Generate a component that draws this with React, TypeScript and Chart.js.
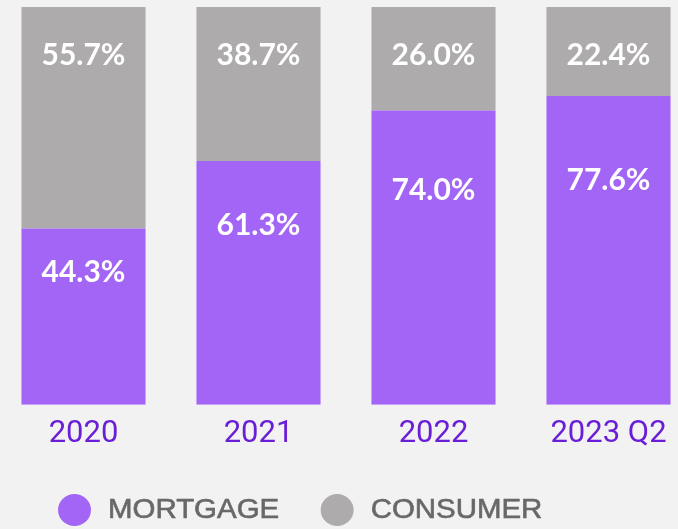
import React, { useEffect, useRef } from "react";
import { Chart, registerables } from "chart.js";

Chart.register(...registerables);

const categories = ["2020", "2021", "2022", "2023 Q2"];
const mortgage = [44.3, 61.3, 74.0, 77.6];
const consumer = [55.7, 38.7, 26.0, 22.4];
const seriesNames = ["MORTGAGE", "CONSUMER"];

const PURPLE = "#a265f5";
const GRAY = "#adabab";
const BG = "#f2f2f2";
const OFFSET_X = -4;

const valueLabels = {
  id: "valueLabels",
  afterDatasetsDraw(chart: any) {
    const ctx = chart.ctx;
    ctx.save();
    ctx.fillStyle = "#ffffff";
    ctx.font = "bold 30px Lato";
    ctx.textAlign = "center";
    ctx.textBaseline = "alphabetic";
    chart.data.datasets.forEach((ds: any, di: number) => {
      const meta = chart.getDatasetMeta(di);
      meta.data.forEach((bar: any, i: number) => {
        const p = bar.getProps(["x", "y", "base"], true);
        const top = Math.min(p.y, p.base);
        const h = Math.abs(p.base - p.y);
        const cy = di === 0 ? top + h * 0.3 - 10 : top + 47;
        ctx.fillText(`${Number(ds.data[i]).toFixed(1)}%`, p.x, cy + 11);
      });
    });
    ctx.restore();
  },
};

const customLegend = {
  id: "customLegend",
  afterDraw(chart: any) {
    const ctx = chart.ctx;
    const sx = 1.09;
    ctx.save();
    ctx.font = "27px 'Liberation Sans'";
    ctx.textBaseline = "alphabetic";
    ctx.textAlign = "left";
    let cx = 74.5 - OFFSET_X;
    const cy = 510;
    chart.data.datasets.forEach((ds: any) => {
      ctx.fillStyle = ds.backgroundColor;
      ctx.beginPath();
      ctx.ellipse(cx, cy, 16.5, 16, 0, 0, Math.PI * 2);
      ctx.fill();
      const tx = cx + 33.5;
      ctx.save();
      ctx.translate(tx, 518);
      ctx.scale(sx, 1);
      ctx.fillStyle = "#686868";
      ctx.strokeStyle = "#686868";
      ctx.lineWidth = 0.6;
      ctx.fillText(ds.label, 0, 0);
      ctx.strokeText(ds.label, 0, 0);
      ctx.restore();
      const w = ctx.measureText(ds.label).width * sx;
      cx = tx + w + 58;
    });
    ctx.restore();
  },
};

export default function App() {
  const ref = useRef<HTMLCanvasElement>(null);
  useEffect(() => {
    if (!ref.current) return;
    const chart = new Chart(ref.current, {
      type: "bar",
      data: {
        labels: categories,
        datasets: [
          { label: seriesNames[0], data: mortgage, backgroundColor: PURPLE, borderWidth: 0 },
          { label: seriesNames[1], data: consumer, backgroundColor: GRAY, borderWidth: 0 },
        ],
      },
      options: {
        animation: false,
        responsive: false,
        devicePixelRatio: 1,
        layout: { padding: { top: 7, bottom: 65, left: 0, right: 0 } },
        datasets: { bar: { categoryPercentage: 1, barPercentage: 0.709 } },
        plugins: { legend: { display: false }, tooltip: { enabled: false } },
        scales: {
          x: {
            stacked: true,
            border: { display: false },
            grid: { display: false, drawTicks: false },
            ticks: {
              color: "#6a1fd6",
              padding: 11,
              font: { family: "Roboto", size: 31, lineHeight: 1.2 },
            },
          },
          y: { stacked: true, min: 0, max: 100, display: false },
        },
      },
      plugins: [valueLabels, customLegend],
    });
    return () => chart.destroy();
  }, []);
  return (
    <div
      style={{
        position: "fixed",
        left: 0,
        top: 0,
        width: 678,
        height: 529,
        overflow: "hidden",
        background: BG,
      }}
    >
      <canvas
        ref={ref}
        width={700}
        height={529}
        style={{ position: "absolute", left: OFFSET_X, top: 0, width: 700, height: 529 }}
      />
    </div>
  );
}
